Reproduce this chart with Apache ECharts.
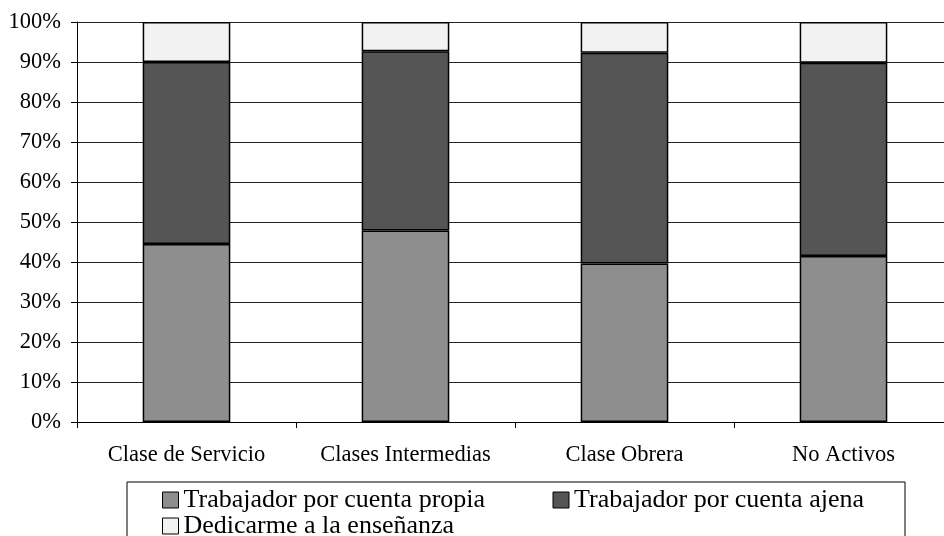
<!DOCTYPE html>
<html>
<head>
<meta charset="utf-8">
<script src="https://cdn.jsdelivr.net/npm/echarts@6/dist/echarts.min.js"></script>
<style>html,body{margin:0;padding:0;background:#fff;overflow:hidden;width:944px;height:536px;}#c{width:954px;height:536px;}</style>
</head>
<body>
<div id="c"></div>
<script>
const categories = ['Clase de Servicio', 'Clases Intermedias', 'Clase Obrera', 'No Activos'];
const seriesNames = ['Trabajador por cuenta propia', 'Trabajador por cuenta ajena', 'Dedicarme a la enseñanza'];
const propia = [44.5, 47.9, 39.6, 41.5];
const ajena = [45.5, 44.8, 52.7, 48.3];
const ensenanza = [10.0, 7.3, 7.7, 10.2];
const colors = ['#8e8e8e', '#555555', '#f2f2f2'];
const font = 'Liberation Serif, Times New Roman, serif';

const chart = echarts.init(document.getElementById('c'), null, {renderer: 'canvas'});
const mk = (name, data, color) => ({
  name, type: 'bar', stack: 'total', data, barWidth: '40%',
  itemStyle: {color, borderColor: '#000', borderWidth: 1.5},
  emphasis: {disabled: true}
});
chart.setOption({
  animation: false,
  textStyle: {fontFamily: font, color: '#000'},
  grid: {left: 77, top: 22, width: 876, height: 400, containLabel: false},
  xAxis: {
    type: 'category', data: categories,
    axisLine: {show: true, lineStyle: {color: '#000', width: 1}},
    axisTick: {show: true, alignWithLabel: false, length: 6, lineStyle: {color: '#000'}},
    axisLabel: {fontFamily: font, fontSize: 22.5, color: '#000', margin: 22, interval: 0}
  },
  yAxis: {
    type: 'value', min: 0, max: 100, interval: 10,
    axisLine: {show: true, lineStyle: {color: '#000', width: 1}},
    axisTick: {show: true, length: 6, lineStyle: {color: '#000'}},
    axisLabel: {fontFamily: font, fontSize: 22.5, color: '#000', margin: 16, formatter: '{value}%'},
    splitLine: {show: true, lineStyle: {color: '#222', width: 1}}
  },
  legend: {
    data: seriesNames,
    left: 127, top: 482,
    itemGap: 0,
    itemWidth: 16, itemHeight: 16,
    icon: 'rect',
    padding: [5, 10, 20, 35],
    borderColor: '#000', borderWidth: 1,
    backgroundColor: '#fff',
    width: 760,
    formatter: function (name) {
      return name === seriesNames[1] ? '{b|' + name + '}' : '{a|' + name + '}';
    },
    textStyle: {
      fontFamily: font, fontSize: 26, color: '#000', lineHeight: 26,
      rich: {
        a: {width: 369, fontFamily: font, fontSize: 26, color: '#000', lineHeight: 26},
        b: {width: 321, fontFamily: font, fontSize: 26, color: '#000', lineHeight: 26}
      }
    },
    itemStyle: {borderColor: '#000', borderWidth: 1}
  },
  series: [
    mk(seriesNames[0], propia, colors[0]),
    mk(seriesNames[1], ajena, colors[1]),
    mk(seriesNames[2], ensenanza, colors[2])
  ]
});
</script>
</body>
</html>
